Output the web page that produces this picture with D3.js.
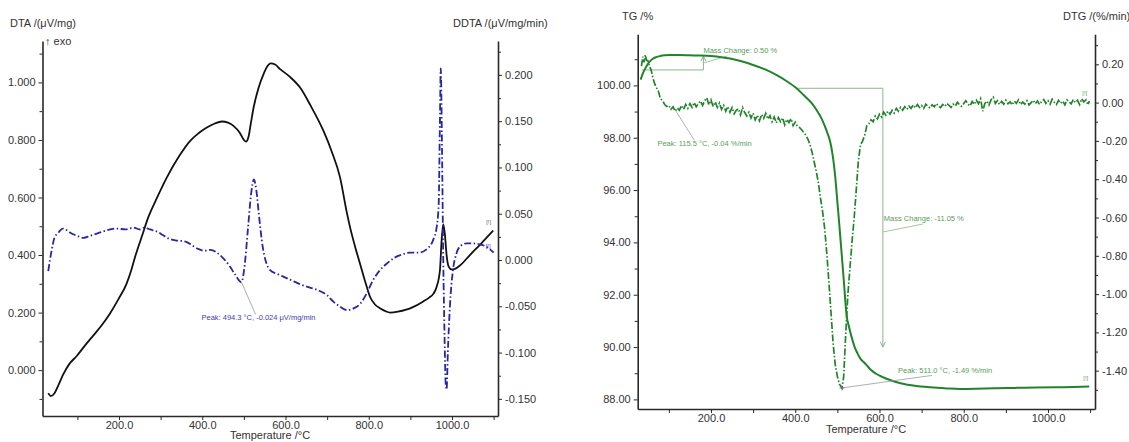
<!DOCTYPE html>
<html><head><meta charset="utf-8">
<script src="https://cdn.jsdelivr.net/npm/d3@7"></script>
<style>
body{margin:0;background:#fff}
svg{display:block}
text{font-family:"Liberation Sans",Arial,sans-serif}
</style>
</head><body>
<svg id="c" width="1129" height="442"></svg>
<script>
// ---------- DATA: left chart (DTA / DDTA) ----------
const dtaT=[30,36,45,55,66,80,99,118,138,158,178,198,218,230,240,255,270,290,315,345,371,391,411,430,447,462,475,490,500,505,511,517,523,535,547,556,564,575,587,610,635,660,691,711,731,747,755,767,779,791,803,815,827,840,851,870,890,906,930,945,955,963,971,975,979,983,987,992,999,1007,1020,1043,1070,1099];
const dtaV=[-0.08,-0.09,-0.08,-0.05,-0.015,0.02,0.05,0.085,0.12,0.155,0.196,0.245,0.30,0.35,0.40,0.465,0.53,0.595,0.67,0.745,0.797,0.823,0.843,0.857,0.864,0.86,0.849,0.825,0.80,0.794,0.81,0.86,0.91,0.98,1.028,1.055,1.066,1.062,1.046,1.02,0.982,0.92,0.832,0.76,0.67,0.55,0.497,0.43,0.37,0.31,0.255,0.228,0.215,0.205,0.20,0.203,0.21,0.219,0.238,0.252,0.265,0.289,0.347,0.449,0.507,0.47,0.40,0.36,0.35,0.352,0.365,0.40,0.44,0.485];
const ddtaT=[30,38,45,55,65,75,85,100,115,130,150,170,195,215,235,250,260,275,290,305,320,340,360,375,390,405,420,435,450,465,478,494,502,510,517,524,530,537,545,553,563,580,600,620,640,660,680,700,715,730,747,765,780,795,810,825,843,860,880,900,920,940,955,963,968,971,973,976,979,982,985,987,990,995,1002,1010,1020,1035,1050,1065,1080,1090,1100];
const ddtaV=[-0.012,0.01,0.024,0.03,0.034,0.032,0.029,0.026,0.024,0.026,0.029,0.032,0.034,0.033,0.035,0.033,0.035,0.033,0.031,0.027,0.023,0.021,0.020,0.016,0.012,0.010,0.011,0.008,0.002,-0.006,-0.015,-0.024,-0.005,0.035,0.07,0.087,0.075,0.045,0.015,-0.002,-0.011,-0.015,-0.019,-0.023,-0.027,-0.03,-0.033,-0.038,-0.045,-0.05,-0.054,-0.052,-0.047,-0.036,-0.022,-0.012,-0.004,0.002,0.006,0.008,0.008,0.012,0.022,0.035,0.06,0.15,0.207,0.12,0.0,-0.08,-0.135,-0.14,-0.1,-0.05,-0.012,0.006,0.015,0.018,0.018,0.017,0.015,0.012,0.008];
const dtaTicks=[0,0.2,0.4,0.6,0.8,1.0];
const dtaMinor=[-0.1,0.1,0.3,0.5,0.7,0.9,1.1];
const ddtaTicks=[-0.15,-0.1,-0.05,0,0.05,0.1,0.15,0.2];
const ddtaMinor=[-0.125,-0.075,-0.025,0.025,0.075,0.125,0.175,0.225];
const xTicks=[200,400,600,800,1000];
const xMinor=[100,300,500,700,900,1100];
const ddtaPeak={T:494.3,v:-0.024,label:"Peak: 494.3 °C, -0.024 μV/mg/min"};

// ---------- DATA: right chart (TG / DTG) ----------
const tgT=[33,38,45,50,55,62,70,79,90,103,125,150,175,200,225,245,270,300,330,356,380,403,420,440,451,462,470,477,483,490,495,500,505,510,515,522,528,534,541,548,555,563,570,580,592,605,625,650,680,720,760,791,830,870,920,970,1020,1060,1098];
const tgV=[100.22,100.45,100.68,100.82,100.92,101.02,101.08,101.12,101.15,101.16,101.16,101.15,101.14,101.12,101.08,101.03,100.93,100.78,100.6,100.39,100.16,99.89,99.63,99.3,99.05,98.75,98.45,98.15,97.85,97.2,96.5,95.55,94.6,93.6,92.6,91.2,90.75,90.37,90.0,89.75,89.55,89.42,89.3,89.12,88.98,88.87,88.74,88.62,88.53,88.46,88.42,88.4,88.41,88.43,88.44,88.45,88.46,88.47,88.49];
const dtgT=[35,38,41,44,47,50,54,58,62,66,70,75,80,85,90,95,100,105,110,115,120,125,130,135,140,145,150,155,160,165,170,175,180,185,190,195,200,205,210,215,220,225,230,235,240,245,250,255,260,265,270,275,280,285,290,295,300,305,310,315,320,325,330,335,340,345,350,355,360,365,370,375,380,385,390,395,400,405,410,415,420,425,430,435,440,445,450,455,460,465,470,475,480,485,490,495,500,505,511,515,520,525,530,535,540,545,550,555,560,565,570,575,580,585,590,595,600,605,610,615,620,625,630,635,640,645,650,655,660,665,670,675,680,685,690,695,700,705,710,715,720,725,730,735,740,745,750,755,760,765,770,775,780,785,790,795,800,805,810,815,820,825,830,835,840,845,850,855,860,865,870,875,880,885,890,895,900,905,910,915,920,925,930,935,940,945,950,955,960,965,970,975,980,985,990,995,1000,1005,1010,1015,1020,1025,1030,1035,1040,1045,1050,1055,1060,1065,1070,1075,1080,1085,1090,1095,1098];
const dtgV=[0.19,0.24,0.21,0.25,0.22,0.22,0.19,0.17,0.13,0.10,0.08,0.06,0.02,0.01,-0.01,-0.02,-0.015,-0.035,-0.022,-0.045,-0.028,-0.04,-0.015,-0.035,-0.01,-0.03,-0.005,-0.025,0.0,-0.022,-0.004,0.008,-0.015,0.01,0.025,-0.012,0.014,-0.02,0.004,-0.025,-0.002,-0.035,-0.014,-0.045,-0.02,-0.05,-0.026,-0.058,-0.04,-0.032,-0.064,-0.026,-0.052,-0.07,-0.05,-0.08,-0.056,-0.09,-0.066,-0.095,-0.062,-0.082,-0.056,-0.086,-0.068,-0.1,-0.075,-0.106,-0.078,-0.1,-0.08,-0.116,-0.088,-0.104,-0.084,-0.12,-0.102,-0.124,-0.13,-0.142,-0.155,-0.17,-0.19,-0.22,-0.26,-0.31,-0.36,-0.42,-0.5,-0.57,-0.66,-0.79,-0.94,-1.1,-1.26,-1.37,-1.43,-1.47,-1.49,-1.43,-1.2,-1.0,-0.86,-0.72,-0.6,-0.45,-0.3,-0.22,-0.2,-0.17,-0.12,-0.11,-0.09,-0.1,-0.07,-0.085,-0.06,-0.075,-0.05,-0.065,-0.045,-0.06,-0.04,-0.055,-0.03,-0.045,-0.025,-0.04,-0.022,-0.035,-0.018,-0.03,-0.012,-0.028,-0.01,-0.025,-0.015,-0.03,-0.008,-0.02,-0.028,-0.012,-0.022,-0.005,-0.018,-0.026,-0.01,-0.02,-0.004,-0.015,-0.025,-0.008,-0.018,0.002,-0.012,-0.02,-0.005,0.01,-0.008,-0.018,0.006,-0.01,0.012,-0.006,0.02,-0.045,-0.005,0.008,-0.012,0.015,0.028,-0.004,0.01,-0.01,0.006,-0.008,0.012,-0.006,0.004,-0.012,0.008,-0.004,0.014,-0.01,0.003,-0.008,0.01,-0.012,0.0,0.012,-0.006,0.008,-0.01,0.006,0.016,-0.004,0.01,-0.008,0.018,0.002,-0.01,0.012,-0.004,0.008,-0.012,0.014,0.004,-0.006,0.016,0.0,0.012,-0.01,0.02,0.004,0.014,-0.012,0.008];
const tgTicks=[88,90,92,94,96,98,100];
const tgMinor=[89,91,93,95,97,99,101];
const dtgTicks=[-1.4,-1.2,-1.0,-0.8,-0.6,-0.4,-0.2,0,0.2];
const dtgMinor=[-1.5,-1.3,-1.1,-0.9,-0.7,-0.5,-0.3,-0.1,0.1,0.3];
const dtgPeaks=[{T:115.5,v:-0.04,label:"Peak: 115.5 °C, -0.04 %/min"},{T:511.0,v:-1.49,label:"Peak: 511.0 °C, -1.49 %/min"}];
const massChanges=[{T0:36,T1:182,from:100.59,to:101.12,label:"Mass Change: 0.50 %"},{T0:403,T1:608,from:99.89,to:90.0,label:"Mass Change: -11.05 %"}];

// ---------- DRAW ----------
const svg=d3.select("#c");
const AX="#2a2a2a", TXT="#333";
const BLUE="#2626a6", BLUE_T="#3d3db5", GREEN="#22842a", GREEN_T="#58a058", LEAD="#9a9a9a";

function styleAxis(g){
  g.select(".domain").attr("stroke",AX).attr("stroke-width",1.6);
  g.selectAll(".tick line").attr("stroke",AX).attr("stroke-width",1);
  g.selectAll(".tick text").attr("fill",TXT).attr("font-size",11).attr("font-family","Liberation Sans, Arial, sans-serif");
}
function minorAxis(g){ g.select(".domain").remove(); g.selectAll(".tick line").attr("stroke",AX).attr("stroke-width",1); g.selectAll("text").remove(); }

// Left panel
const L={x0:42.5,x1:498,y0:41,y1:416};
const xL=d3.scaleLinear().domain([16.2,1110.5]).range([L.x0,L.x1]);
const yDTA=d3.scaleLinear().domain([-0.1594,1.1438]).range([L.y1,L.y0]);
const yDDTA=d3.scaleLinear().domain([-0.1685,0.2366]).range([L.y1,L.y0]);

const gL=svg.append("g");
gL.append("g").attr("transform",`translate(${L.x0},0)`).call(d3.axisLeft(yDTA).tickValues(dtaMinor).tickSize(3).tickSizeOuter(0)).call(minorAxis);
gL.append("g").attr("transform",`translate(${L.x0},0)`).call(d3.axisLeft(yDTA).tickValues(dtaTicks).tickFormat(d=>d.toFixed(3)).tickSize(4).tickSizeOuter(0).tickPadding(3)).call(styleAxis);
gL.append("g").attr("transform",`translate(${L.x1},0)`).call(d3.axisRight(yDDTA).tickValues(ddtaMinor.filter(v=>v<0.236)).tickSize(3).tickSizeOuter(0)).call(minorAxis);
gL.append("g").attr("transform",`translate(${L.x1},0)`).call(d3.axisRight(yDDTA).tickValues(ddtaTicks).tickFormat(d=>d.toFixed(3)).tickSize(4).tickSizeOuter(0).tickPadding(3)).call(styleAxis);
gL.append("g").attr("transform",`translate(0,${L.y1})`).call(d3.axisBottom(xL).tickValues(xMinor).tickSize(4).tickSizeOuter(0)).call(minorAxis);
gL.append("g").attr("transform",`translate(0,${L.y1})`).call(d3.axisBottom(xL).tickValues(xTicks).tickFormat(d=>d.toFixed(1)).tickSize(4).tickSizeOuter(0).tickPadding(1)).call(styleAxis);

const lineDTA=d3.line().x((d,i)=>xL(dtaT[i])).y(d=>yDTA(d)).curve(d3.curveMonotoneX);
gL.append("path").attr("d",lineDTA(dtaV)).attr("fill","none").attr("stroke","#111").attr("stroke-width",1.8);
const lineDDTA=d3.line().x((d,i)=>xL(ddtaT[i])).y(d=>yDDTA(d)).curve(d3.curveMonotoneX);
gL.append("path").attr("d",lineDDTA(ddtaV)).attr("fill","none").attr("stroke",BLUE).attr("stroke-width",1.8).attr("stroke-dasharray","7,2.5,1.5,2.5");

// left annotations
{
  const px=xL(ddtaPeak.T), py=yDDTA(ddtaPeak.v);
  gL.append("line").attr("x1",px).attr("y1",py).attr("x2",px+14).attr("y2",py+32).attr("stroke",LEAD).attr("stroke-width",0.8);
  gL.append("text").attr("x",px-40).attr("y",py+38).attr("font-size",7.5).attr("fill",BLUE_T).text(ddtaPeak.label);
  const ex=xL(dtaT[dtaT.length-1]), ey=yDTA(dtaV[dtaV.length-1]);
  gL.append("text").attr("x",ex-7).attr("y",ey-7).attr("font-size",6).attr("fill","#666").text("[!]");
  const bx=xL(ddtaT[ddtaT.length-1]), by=yDDTA(ddtaV[ddtaV.length-1]);
  gL.append("text").attr("x",bx-8).attr("y",by-5).attr("font-size",6).attr("fill",BLUE_T).text("[!]");
}
gL.append("text").attr("x",10).attr("y",27).attr("font-size",11).attr("fill",TXT).text("DTA /(μV/mg)");
gL.append("text").attr("x",45).attr("y",45).attr("font-size",11).attr("fill",TXT).text("↑ exo");
gL.append("text").attr("x",453).attr("y",27).attr("font-size",11).attr("fill",TXT).text("DDTA /(μV/mg/min)");
gL.append("text").attr("x",270).attr("y",439).attr("text-anchor","middle").attr("font-size",11).attr("fill",TXT).text("Temperature /°C");

// Right panel
const R={x0:637.7,x1:1095,y0:34.3,y1:409};
const xR=d3.scaleLinear().domain([26.0,1111.6]).range([R.x0,R.x1]);
const yTG=d3.scaleLinear().domain([87.633,101.953]).range([R.y1,R.y0]);
const yDTG=d3.scaleLinear().domain([-1.6,0.3567]).range([R.y1,R.y0]);

const gR=svg.append("g");
gR.append("g").attr("transform",`translate(${R.x0},0)`).call(d3.axisLeft(yTG).tickValues(tgMinor).tickSize(3).tickSizeOuter(0)).call(minorAxis);
gR.append("g").attr("transform",`translate(${R.x0},0)`).call(d3.axisLeft(yTG).tickValues(tgTicks).tickFormat(d=>d.toFixed(2)).tickSize(4).tickSizeOuter(0).tickPadding(3)).call(styleAxis);
gR.append("g").attr("transform",`translate(${R.x1},0)`).call(d3.axisRight(yDTG).tickValues(dtgMinor).tickSize(3).tickSizeOuter(0)).call(minorAxis);
gR.append("g").attr("transform",`translate(${R.x1},0)`).call(d3.axisRight(yDTG).tickValues(dtgTicks).tickFormat(d=>d.toFixed(2)).tickSize(4).tickSizeOuter(0).tickPadding(3)).call(styleAxis);
gR.append("g").attr("transform",`translate(0,${R.y1})`).call(d3.axisBottom(xR).tickValues(xMinor).tickSize(4).tickSizeOuter(0)).call(minorAxis);
gR.append("g").attr("transform",`translate(0,${R.y1})`).call(d3.axisBottom(xR).tickValues(xTicks).tickFormat(d=>d.toFixed(1)).tickSize(4).tickSizeOuter(0).tickPadding(1)).call(styleAxis);

// annotation construction lines (under curves)
massChanges.forEach((m,i)=>{
  const xa=xR(m.T0), xb=xR(m.T1), ya=yTG(m.from), yb=yTG(m.to);
  gR.append("line").attr("x1",xa).attr("y1",ya).attr("x2",xb).attr("y2",ya).attr("stroke","#8db58d").attr("stroke-width",1);
  gR.append("line").attr("x1",xb).attr("y1",ya).attr("x2",xb).attr("y2",yb).attr("stroke","#8db58d").attr("stroke-width",1);
  const dir=yb>ya?1:-1;
  gR.append("path").attr("d",`M${xb-2.5},${yb-dir*5}L${xb},${yb}L${xb+2.5},${yb-dir*5}`).attr("fill","none").attr("stroke","#8db58d").attr("stroke-width",1);
  if(i===0){
    gR.append("line").attr("x1",xb).attr("y1",(ya+yb)/2).attr("x2",xb+24).attr("y2",ya-14).attr("stroke","#8db58d").attr("stroke-width",0.8);
    gR.append("text").attr("x",xb).attr("y",ya-17).attr("font-size",7.5).attr("fill",GREEN_T).text(m.label);
  } else {
    gR.append("line").attr("x1",xb).attr("y1",232).attr("x2",xb+40).attr("y2",224).attr("stroke","#8db58d").attr("stroke-width",0.8);
    gR.append("text").attr("x",xb+1).attr("y",221).attr("font-size",7.5).attr("fill",GREEN_T).text(m.label);
  }
});

const lineTG=d3.line().x((d,i)=>xR(tgT[i])).y(d=>yTG(d)).curve(d3.curveMonotoneX);
gR.append("path").attr("d",lineTG(tgV)).attr("fill","none").attr("stroke",GREEN).attr("stroke-width",2);
const lineDTG=d3.line().x((d,i)=>xR(dtgT[i])).y(d=>yDTG(d)).curve(d3.curveLinear);
gR.append("path").attr("d",lineDTG(dtgV)).attr("fill","none").attr("stroke",GREEN).attr("stroke-width",1.7).attr("stroke-dasharray","7,2,1.5,2");

// peaks
{
  const p0=dtgPeaks[0], x0=xR(p0.T), y0=yDTG(p0.v);
  gR.append("line").attr("x1",x0).attr("y1",y0).attr("x2",x0+19).attr("y2",y0+30).attr("stroke",LEAD).attr("stroke-width",0.8);
  gR.append("text").attr("x",x0-18).attr("y",y0+36).attr("font-size",7.5).attr("fill",GREEN_T).text(p0.label);
  const p1=dtgPeaks[1], x1=xR(p1.T), y1=yDTG(p1.v);
  gR.append("line").attr("x1",x1).attr("y1",y1).attr("x2",x1+90).attr("y2",y1-12.5).attr("stroke",LEAD).attr("stroke-width",0.8);
  gR.append("path").attr("d",`M${x1-2.5},${y1}H${x1+2.5}M${x1},${y1-2.5}V${y1+2.5}`).attr("stroke","#666").attr("stroke-width",0.8);
  gR.append("text").attr("x",x1+56).attr("y",y1-15).attr("font-size",7.5).attr("fill",GREEN_T).text(p1.label);
  const ex=xR(dtgT[dtgT.length-1]), ey=yDTG(dtgV[dtgV.length-1]);
  gR.append("text").attr("x",ex-7).attr("y",ey-6).attr("font-size",6).attr("fill",GREEN_T).text("[!]");
  const tx=xR(tgT[tgT.length-1]), ty=yTG(tgV[tgV.length-1]);
  gR.append("text").attr("x",tx-6).attr("y",ty-7).attr("font-size",6).attr("fill",GREEN_T).text("[!]");
}
gR.append("text").attr("x",622).attr("y",20).attr("font-size",11).attr("fill",TXT).text("TG /%");
gR.append("text").attr("x",1063).attr("y",20).attr("font-size",11).attr("fill",TXT).text("DTG /(%/min)");
gR.append("text").attr("x",866).attr("y",433).attr("text-anchor","middle").attr("font-size",11).attr("fill",TXT).text("Temperature /°C");
</script>
</body></html>
